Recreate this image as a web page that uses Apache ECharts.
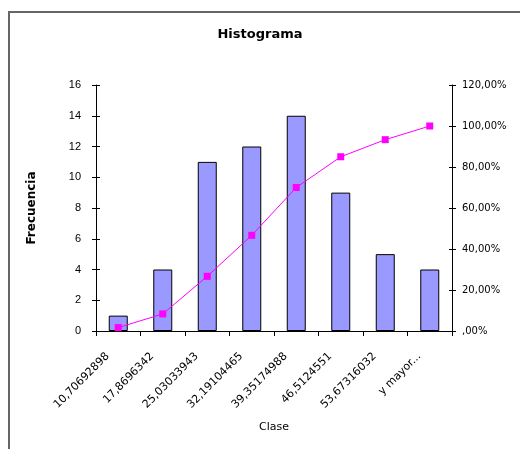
<!DOCTYPE html>
<html>
<head>
<meta charset="utf-8">
<script src="https://cdn.jsdelivr.net/npm/echarts@6/dist/echarts.min.js"></script>
<style>
  html, body { margin: 0; padding: 0; background: #fff; }
  #chart { width: 520px; height: 449px; }
</style>
</head>
<body>
<div id="chart"></div>
<script>
// Class upper bounds of the histogram
const clases = ['10,70692898', '17,8696342', '25,03033943', '32,19104465',
                '39,35174988', '46,5124551', '53,67316032', 'y mayor...'];
// Frequency per class
const frecuencia = [1, 4, 11, 12, 14, 9, 5, 4];
// Cumulative percentage per class
const acumulado = [1.67, 8.33, 26.67, 46.67, 70.00, 85.00, 93.33, 100.00];

const pctLabel = v => {
  if (Math.abs(v) < 1e-9) return ',00%';
  return v.toFixed(2).replace('.', ',') + '%';
};

const chart = echarts.init(document.getElementById('chart'), null, { renderer: 'canvas' });

const baseFont = 'Liberation Sans, Arial, sans-serif';
const wideFont = 'DejaVu Sans';

chart.setOption({
  backgroundColor: '#ffffff',
  animation: false,
  title: {
    text: 'Histograma',
    left: 'center',
    top: 23,
    textStyle: { fontFamily: wideFont, fontWeight: 'bold', fontSize: 13, color: '#000' }
  },
  grid: { left: 96, right: 68, top: 85, bottom: 118, containLabel: false },
  xAxis: {
    type: 'category',
    data: clases,
    name: 'Clase',
    nameLocation: 'middle',
    nameGap: 91,
    nameTextStyle: { fontFamily: wideFont, fontSize: 11, color: '#000' },
    axisLine: { lineStyle: { color: '#000', width: 1 } },
    axisTick: { show: true, length: 5, lineStyle: { color: '#000' } },
    axisLabel: {
      rotate: 45, margin: 13, interval: 0,
      fontFamily: wideFont, fontSize: 11, color: '#000',
      padding: [0, 15, 0, 0]
    },
    splitLine: { show: false }
  },
  yAxis: [
    {
      type: 'value', min: 0, max: 16, interval: 2,
      name: 'Frecuencia',
      nameLocation: 'middle',
      nameGap: 58,
      nameRotate: 90,
      nameTextStyle: { fontFamily: wideFont, fontWeight: 'bold', fontSize: 12, color: '#000' },
      axisLine: { show: true, lineStyle: { color: '#000' } },
      axisTick: { show: true, length: 4, lineStyle: { color: '#000' } },
      axisLabel: { fontFamily: baseFont, fontSize: 11, color: '#000', margin: 15, padding: [0, 0, 5, 0] },
      splitLine: { show: false }
    },
    {
      type: 'value', min: 0, max: 120, interval: 20, position: 'right',
      axisLine: { show: true, lineStyle: { color: '#000' } },
      axisTick: { show: true, length: 4, lineStyle: { color: '#000' } },
      axisLabel: { fontFamily: wideFont, fontSize: 10, color: '#000', margin: 10, padding: [0, 0, 5, 0], formatter: pctLabel },
      splitLine: { show: false }
    },
    // inner halves of the cross tick marks
    {
      type: 'value', min: 0, max: 16, interval: 2, position: 'left',
      axisLine: { show: false },
      axisTick: { show: true, inside: true, length: 4, lineStyle: { color: '#000' } },
      axisLabel: { show: false },
      splitLine: { show: false }
    },
    {
      type: 'value', min: 0, max: 120, interval: 20, position: 'right',
      axisLine: { show: false },
      axisTick: { show: true, inside: true, length: 3, lineStyle: { color: '#000' } },
      axisLabel: { show: false },
      splitLine: { show: false }
    }
  ],
  series: [
    {
      name: 'Frecuencia',
      type: 'bar',
      yAxisIndex: 0,
      data: frecuencia,
      barWidth: 19,
      itemStyle: { color: '#9999FF', borderColor: '#000', borderWidth: 1 }
    },
    {
      name: '% acumulado',
      type: 'line',
      yAxisIndex: 1,
      data: acumulado,
      symbol: 'rect',
      symbolSize: 7,
      lineStyle: { color: '#FF00FF', width: 1 },
      itemStyle: { color: '#FF00FF' },
      z: 5
    }
  ],
  graphic: [
    {
      type: 'polyline',
      shape: { points: [[520, 12], [9, 12], [9, 449]] },
      style: { stroke: '#666', lineWidth: 2, fill: null },
      silent: true
    }
  ]
});
</script>
</body>
</html>
